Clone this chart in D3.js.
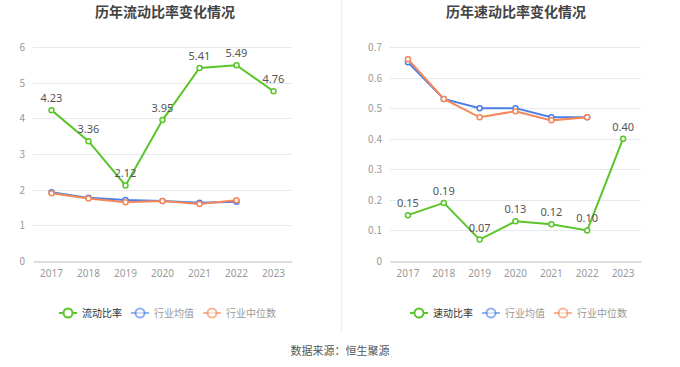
<!DOCTYPE html>
<html>
<head>
<meta charset="utf-8">
<script src="https://cdn.jsdelivr.net/npm/d3@7"></script>
<style>
  body { margin: 0; background: #fff; font-family: "Noto Sans CJK SC", "Noto Sans", sans-serif; }
</style>
</head>
<body>
<svg id="chart" width="680" height="367"></svg>
<script>
// data
let years = ["2017", "2018", "2019", "2020", "2021", "2022", "2023"];

let currentRatio = [4.23, 3.36, 2.12, 3.95, 5.41, 5.49, 4.76];
let currentAvg = [1.93, 1.77, 1.71, 1.68, 1.63, 1.66];
let currentMed = [1.90, 1.75, 1.65, 1.68, 1.60, 1.70];
let currentTicks = [0, 1, 2, 3, 4, 5, 6];

let quickRatio = [0.15, 0.19, 0.07, 0.13, 0.12, 0.10, 0.40];
let quickAvg = [0.65, 0.53, 0.50, 0.50, 0.47, 0.47];
let quickMed = [0.66, 0.53, 0.47, 0.49, 0.46, 0.47];
let quickTicks = [0, 0.1, 0.2, 0.3, 0.4, 0.5, 0.6, 0.7];

let green = "#5ac52a", blue = "#4a7ee6", orange = "#f5875a";

let svg = d3.select("#chart");

// divider between the two panels
svg.append("line")
    .attr("x1", 341.5).attr("x2", 341.5)
    .attr("y1", 0).attr("y2", 332)
    .attr("stroke", "#eeeeee");

function drawPanel(opt) {
    let g = svg.append("g");

    let x = d3.scaleBand().domain(years).range([opt.left, opt.right]);
    let y = d3.scaleLinear().domain([0, opt.max]).range([261, 47]);

    g.append("text")
        .attr("x", opt.titleX).attr("y", 17)
        .attr("text-anchor", "middle")
        .style("font-size", "14px").style("font-weight", "bold")
        .style("fill", "#444")
        .text(opt.title);

    // grid
    g.selectAll(".grid").data(opt.ticks.slice(1)).enter()
        .append("line")
        .attr("x1", opt.left).attr("x2", opt.right)
        .attr("y1", d => Math.round(y(d)) + 0.5).attr("y2", d => Math.round(y(d)) + 0.5)
        .attr("stroke", "#e6e9f2");

    // y labels
    g.selectAll(".yl").data(opt.ticks).enter()
        .append("text")
        .attr("x", opt.left - 8).attr("y", d => y(d) + 4)
        .attr("text-anchor", "end")
        .style("font-size", "10px").style("fill", "#999")
        .text(d => opt.fmt(d));

    // x axis
    let xAxis = d3.axisBottom(x).tickSize(0).tickPadding(8);
    let ax = g.append("g").attr("transform", "translate(0,261.5)").call(xAxis);
    ax.select(".domain").attr("stroke", "#bbbbbb");
    ax.selectAll("text").style("font-size", "10px").style("fill", "#999")
        .style("font-family", "'Noto Sans', sans-serif");

    let line = d3.line()
        .x((d, i) => x(years[i]) + x.bandwidth() / 2)
        .y(d => y(d));

    let series = [
        { vals: opt.avg, color: blue },
        { vals: opt.med, color: orange },
        { vals: opt.main, color: green }
    ];

    series.forEach(function(s) {
        g.append("path")
            .datum(s.vals)
            .attr("d", line)
            .attr("fill", "none")
            .attr("stroke", s.color)
            .attr("stroke-width", 2);
        g.selectAll(null).data(s.vals).enter()
            .append("circle")
            .attr("cx", (d, i) => x(years[i]) + x.bandwidth() / 2)
            .attr("cy", d => y(d))
            .attr("r", 2.5)
            .attr("fill", "#fff")
            .attr("stroke", s.color)
            .attr("stroke-width", 1.5);
    });

    // value labels
    g.selectAll(".vl").data(opt.main).enter()
        .append("text")
        .attr("x", (d, i) => x(years[i]) + x.bandwidth() / 2)
        .attr("y", d => y(d) - 8)
        .attr("text-anchor", "middle")
        .style("font-size", "11px").style("fill", "#555")
        .style("font-family", "'Noto Sans', sans-serif")
        .text(d => d.toFixed(2));

    // legend
    let items = [
        { name: opt.mainName, color: green, text: "#333", op: 1 },
        { name: "行业均值", color: blue, text: "#999", op: 0.6 },
        { name: "行业中位数", color: orange, text: "#999", op: 0.6 }
    ];
    let lx = opt.legendX;
    items.forEach(function(it) {
        let lg = g.append("g").attr("transform", "translate(" + lx + ",313)");
        lg.append("line").attr("x1", 0).attr("x2", 18)
            .attr("stroke", it.color).attr("stroke-width", 2).attr("opacity", it.op);
        lg.append("circle").attr("cx", 9).attr("r", 4.5)
            .attr("fill", "#fff").attr("stroke", it.color).attr("stroke-width", 2).attr("opacity", it.op);
        lg.append("text").attr("x", 23).attr("y", 4)
            .style("font-size", "10px").style("fill", it.text)
            .text(it.name);
        lx += 23 + it.name.length * 10 + 9;
    });
}

drawPanel({
    title: "历年流动比率变化情况", titleX: 165,
    left: 33, right: 292, max: 6, ticks: currentTicks, fmt: d => d,
    main: currentRatio, avg: currentAvg, med: currentMed,
    mainName: "流动比率", legendX: 59
});

drawPanel({
    title: "历年速动比率变化情况", titleX: 516,
    left: 390, right: 641, max: 0.7, ticks: quickTicks, fmt: d => d === 0 ? "0" : d.toFixed(1),
    main: quickRatio, avg: quickAvg, med: quickMed,
    mainName: "速动比率", legendX: 410
});

svg.append("text")
    .attr("x", 340).attr("y", 355)
    .attr("text-anchor", "middle")
    .style("font-size", "11px").style("fill", "#555")
    .text("数据来源：恒生聚源");
</script>
</body>
</html>
